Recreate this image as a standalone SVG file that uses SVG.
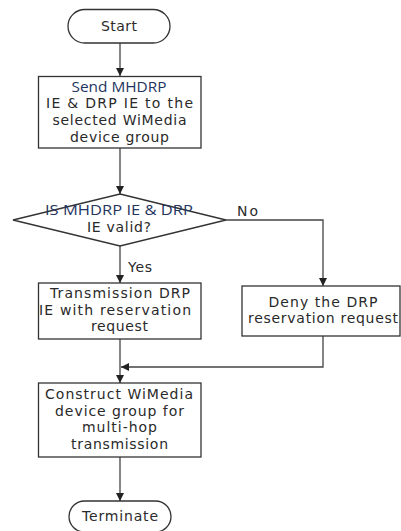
<svg xmlns="http://www.w3.org/2000/svg" width="401" height="531" viewBox="0 0 401 531">
<defs>
<style>
.s{fill:#fff;stroke:#333;stroke-width:1.3}
.c{fill:none;stroke:#444;stroke-width:1.3}
text{font-family:"DejaVu Sans","Noto Sans",sans-serif;font-size:14px;fill:#2a2a2a;text-anchor:middle}
.b{fill:#1f3560;font-family:"Open Sans","Noto Sans",sans-serif;font-size:15px}
.l{text-anchor:start}
</style>
<marker id="a" viewBox="0 0 10 10" refX="10" refY="5" markerWidth="8" markerHeight="8" markerUnits="userSpaceOnUse" orient="auto">
<path d="M0,0 L10,5 L0,10 z" fill="#222"/>
</marker>
</defs>
<rect width="401" height="531" fill="#fff"/>
<g id="connectors">
<path class="c" d="M120,43 V76" marker-end="url(#a)"/>
<path class="c" d="M120,148 V194" marker-end="url(#a)"/>
<path class="c" d="M120,246 V283" marker-end="url(#a)"/>
<path class="c" d="M226,220 H323 V286" marker-end="url(#a)"/>
<path class="c" d="M120,339 V383" marker-end="url(#a)"/>
<path class="c" d="M323,336 V367 H121" marker-end="url(#a)"/>
<path class="c" d="M120,457 V501" marker-end="url(#a)"/>
<text class="l" x="237" y="216" textLength="21">No</text>
<text class="l" x="128" y="272" textLength="24">Yes</text>
</g>
<g id="start">
<rect class="s" x="68" y="9.5" width="102" height="33.5" rx="16.75"/>
<text x="119" y="31" textLength="36">Start</text>
</g>
<g id="send">
<rect class="s" x="38.5" y="76.5" width="162.5" height="71.5"/>
<text class="b" x="119" y="92" textLength="95" lengthAdjust="spacingAndGlyphs">Send MHDRP</text>
<text x="119.5" y="108" textLength="147">IE &amp; DRP IE to the</text>
<text x="119.5" y="125" textLength="134">selected WiMedia</text>
<text x="119.5" y="142" textLength="99">device group</text>
</g>
<g id="decision">
<path class="s" d="M120,194 L226,220 L120,246 L13,220 Z"/>
<text class="b" x="119" y="215" textLength="148" lengthAdjust="spacingAndGlyphs">IS MHDRP IE &amp; DRP</text>
<text x="119" y="232" textLength="64">IE valid?</text>
</g>
<g id="transmission">
<rect class="s" x="38.5" y="283" width="162.5" height="56"/>
<text x="120" y="298" textLength="140">Transmission DRP</text>
<text x="115" y="315" textLength="152">IE with reservation</text>
<text x="119.5" y="331" textLength="57">request</text>
</g>
<g id="deny">
<rect class="s" x="242" y="286" width="158" height="50"/>
<text x="323" y="307" textLength="109">Deny the DRP</text>
<text x="323" y="323" textLength="150">reservation request</text>
</g>
<g id="construct">
<rect class="s" x="38.5" y="383" width="162.5" height="74"/>
<text x="119" y="399" textLength="148">Construct WiMedia</text>
<text x="119.5" y="416" textLength="129">device group for</text>
<text x="119.5" y="432" textLength="75">multi-hop</text>
<text x="119.5" y="449" textLength="97">transmission</text>
</g>
<g id="terminate">
<rect class="s" x="69" y="501" width="102" height="31" rx="15.5"/>
<text x="120" y="521" textLength="76">Terminate</text>
</g>
</svg>
